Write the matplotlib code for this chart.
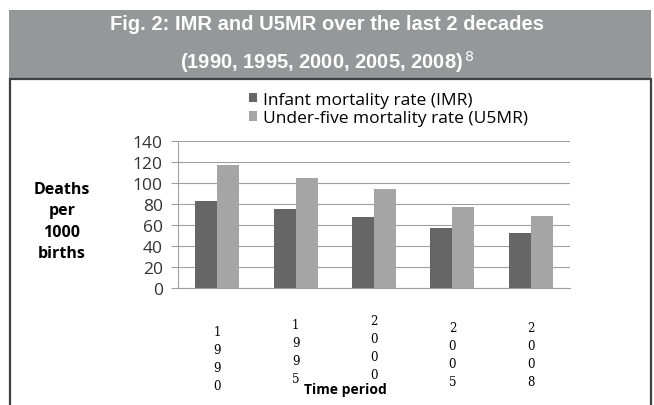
import matplotlib.pyplot as plt
import numpy as np
from matplotlib.patches import Rectangle
from matplotlib.transforms import ScaledTranslation

years = ["1990", "1995", "2000", "2005", "2008"]
imr = [83, 75, 68, 57, 52]
u5mr = [117, 105, 94, 77, 69]
series_names = ["Infant mortality rate (IMR)", "Under-five mortality rate (U5MR)"]

W, H = 654, 406
# Excel placed the stacked year labels at slightly different heights (pixels)
label_shift = [0, 7, 11, 4, 4]


def main() -> None:
    plt.rcParams["font.family"] = ["Open Sans", "DejaVu Sans"]
    fig = plt.figure(figsize=(W / 100, H / 100), dpi=100)

    # header band and frame
    fig.patches.append(Rectangle((9 / W, 1 - 79 / H), 642 / W, 68 / H,
                                 transform=fig.transFigure, facecolor="#959898",
                                 edgecolor="none", zorder=-2))
    fig.patches.append(Rectangle((9.5 / W, -0.05), 641 / W, 1.05 - 80 / H,
                                 transform=fig.transFigure, facecolor="white",
                                 edgecolor="#404040", linewidth=1.6, zorder=-2))
    title_kw = dict(ha="center", va="center", color="white", fontsize=14.5,
                    fontweight="bold", family=["Liberation Sans", "DejaVu Sans"])
    fig.text(0.5, 1 - 24 / H, "Fig. 2: IMR and U5MR over the last 2 decades", **title_kw)
    fig.text(0.5, 1 - 62 / H, r"(1990, 1995, 2000, 2005, 2008)$^{\,8}$", **title_kw)

    ax = fig.add_axes([178 / W, 1 - 289 / H, 392 / W, 147 / H], zorder=2)
    ax.patch.set_alpha(0)
    x = np.arange(len(years))
    w = 0.28
    b1 = ax.bar(x - w / 2, imr, w, color="#666666", label=series_names[0], zorder=3)
    b2 = ax.bar(x + w / 2, u5mr, w, color="#a5a5a5", label=series_names[1], zorder=3)

    ax.set_ylim(0, 140)
    ax.set_xlim(-0.5, len(years) - 0.5)
    ax.set_yticks(range(0, 141, 20))
    ax.yaxis.grid(True, color="#a0a0a0", linewidth=0.8)
    ax.set_axisbelow(True)
    for s in ["top", "right"]:
        ax.spines[s].set_visible(False)
    ax.spines["left"].set_color("#a0a0a0")
    ax.spines["bottom"].set_color("#a0a0a0")
    ax.tick_params(axis="y", length=5, color="#a0a0a0", labelsize=12.5,
                   labelcolor="#333333", pad=6)
    ax.tick_params(axis="x", length=0, pad=27)
    ax.set_xticks(x)
    labels = ax.set_xticklabels(["\n".join(y) for y in years], fontsize=8.5,
                                linespacing=1.5, va="top", family=["DejaVu Serif"])
    for lab, dy in zip(labels, label_shift):
        lab.set_transform(lab.get_transform()
                          + ScaledTranslation(0, dy / 100, fig.dpi_scale_trans))

    fig.text(62 / W, 1 - 222 / H, "Deaths\nper\n1000\nbirths", ha="center",
             va="center", fontsize=11.5, fontweight="bold", linespacing=1.45)
    fig.text(345 / W, 1 - 390 / H, "Time period", ha="center", va="center",
             fontsize=10, fontweight="bold", zorder=5)

    fig.legend(handles=[b1, b2], loc="upper left", bbox_to_anchor=(240 / W, 1 - 84 / H),
               frameon=False, fontsize=12.5, handlelength=0.5, handleheight=0.5,
               handletextpad=0.3, labelspacing=0.15, borderpad=0)

    fig.savefig("out.png", dpi=100)


if __name__ == "__main__":
    main()
